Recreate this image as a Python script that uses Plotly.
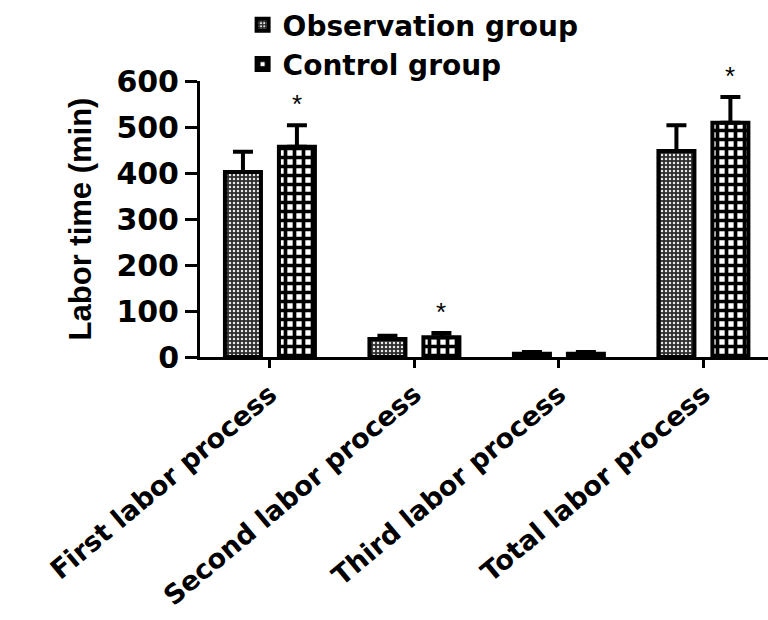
import plotly.graph_objects as go

# Labor duration (min) by stage, mean and SD per group
stages = ["First labor process", "Second labor process",
          "Third labor process", "Total labor process"]
obs_mean = [402, 39, 7, 448]
obs_sd = [44, 7, 4, 56]
ctl_mean = [457, 43, 7, 509]
ctl_sd = [47, 9, 4, 56]
significant = [True, True, False, True]
y_ticks = [0, 100, 200, 300, 400, 500, 600]

W, H = 768, 620
M_L, M_R, M_T, M_B = 200, 0, 81, 263

BIG = "DejaVu Sans"
ARIAL = "Liberation Sans"

fig = go.Figure()

fig.add_trace(go.Bar(
    name="Observation group",
    x=stages, y=obs_mean,
    marker=dict(
        color="#3a3a3a",
        line=dict(color="black", width=4),
        pattern=dict(shape=".", size=4, solidity=0.3,
                     fgcolor="#e8e8e8", bgcolor="#2e2e2e", fillmode="replace"),
    ),
    error_y=dict(type="data", symmetric=False, array=obs_sd,
                 arrayminus=[0] * len(obs_sd),
                 color="black", thickness=4, width=10),
))

fig.add_trace(go.Bar(
    name="Control group",
    x=stages, y=ctl_mean,
    marker=dict(
        color="white",
        line=dict(color="black", width=4),
        pattern=dict(shape="+", size=9, solidity=0.65,
                     fgcolor="black", bgcolor="white", fillmode="replace"),
    ),
    error_y=dict(type="data", symmetric=False, array=ctl_sd,
                 arrayminus=[0] * len(ctl_sd),
                 color="black", thickness=4, width=10),
))

# significance marks above the control bars
for stage, m, s, sig in zip(stages, ctl_mean, ctl_sd, significant):
    if sig:
        fig.add_annotation(x=stage, y=m + s, xref="x", yref="y",
                           text="*", showarrow=False, xshift=27, yshift=4,
                           yanchor="bottom",
                           font=dict(family=ARIAL, size=26, color="black"))

fig.update_layout(
    width=W, height=H,
    margin=dict(l=M_L, r=M_R, t=M_T, b=M_B, pad=0, autoexpand=False),
    paper_bgcolor="white", plot_bgcolor="white",
    barmode="group", bargap=0.253, bargroupgap=0.333,
    showlegend=True,
    legend=dict(x=0.075, xanchor="left", xref="paper",
                y=1.0, yanchor="top", yref="container",
                font=dict(family=BIG, size=28, color="black", weight="bold"),
                bgcolor="rgba(0,0,0,0)", tracegroupgap=0,
                traceorder="normal"),
    font=dict(family=BIG, color="black"),
)

fig.update_xaxes(
    type="category", range=[-0.484, 3.447], automargin=False,
    showline=True, linecolor="black", linewidth=3,
    ticks="outside", ticklen=8, tickwidth=3, tickcolor="black",
    tickangle=-40, showgrid=False, zeroline=False,
    tickfont=dict(family=BIG, size=27, color="black", weight="bold"),
)

fig.update_yaxes(
    range=[0, 600], tickvals=y_ticks, automargin=False,
    showline=True, linecolor="black", linewidth=3,
    ticks="outside", ticklen=12, tickwidth=3, tickcolor="black",
    showgrid=False, zeroline=False,
    tickfont=dict(family=BIG, size=30, color="black", weight="bold"),
    title=dict(text="<b>Labor time (min)</b>", standoff=16,
               font=dict(family=ARIAL, size=31, color="black")),
)

fig.write_html("out.html")
